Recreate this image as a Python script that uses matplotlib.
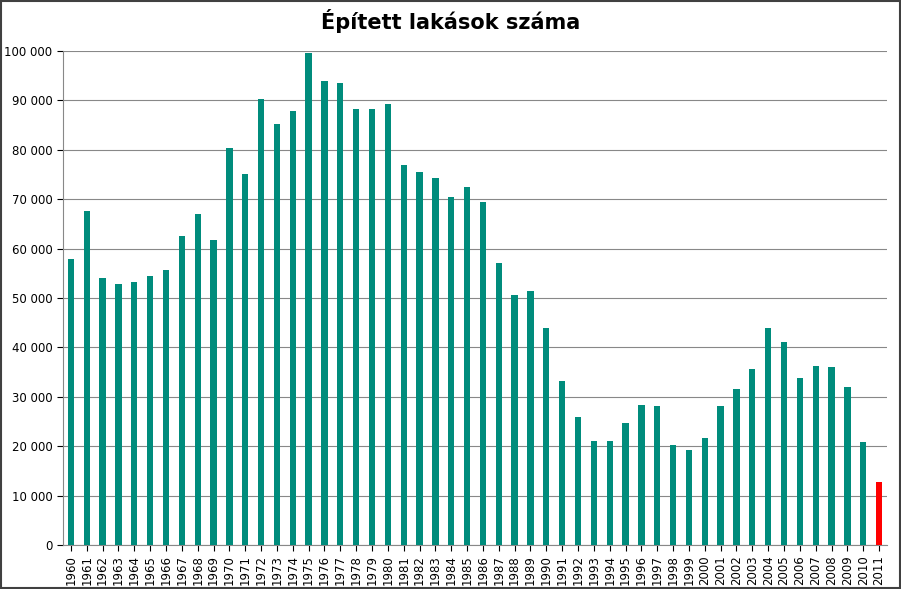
import matplotlib.pyplot as plt
from matplotlib.ticker import FuncFormatter
from matplotlib.patches import Rectangle

years = list(range(1960, 2012))
values = [57900, 67600, 54000, 52800, 53200, 54500, 55700, 62600, 67000, 61700,
          80400, 75100, 90300, 85200, 87900, 99600, 93900, 93500, 88300, 88300,
          89300, 76900, 75500, 74300, 70400, 72500, 69400, 57100, 50600, 51400,
          43900, 33200, 25900, 21000, 21000, 24700, 28300, 28100, 20200, 19300,
          21600, 28100, 31600, 35600, 43900, 41100, 33800, 36200, 36000, 32000,
          20800, 12700]

colors = ["#008C7C"] * (len(years) - 1) + ["#FF0000"]

fig = plt.figure(figsize=(9.01, 5.89), dpi=100)
ax = fig.add_axes([63 / 901, 44 / 589, 824 / 901, 494 / 589])
fig.patches.append(Rectangle((0.001, 0.001), 0.998, 0.998, transform=fig.transFigure,
                             fill=False, edgecolor="#404040", linewidth=1.5))

x = range(len(years))
ax.bar(x, values, width=0.4, color=colors, zorder=3)
ax.set_xlim(-0.5, len(years) - 0.5)
ax.set_ylim(0, 100000)
ax.set_yticks(range(0, 100001, 10000))
ax.yaxis.set_major_formatter(FuncFormatter(lambda v, p: f"{int(v):,}".replace(",", " ")))
ax.set_xticks(list(x))
ax.set_xticklabels([str(y) for y in years], rotation=90, fontsize=8.5)
ax.tick_params(axis="y", labelsize=8.5, length=4)
ax.tick_params(axis="x", length=4)
ax.grid(axis="y", color="#888888", linewidth=0.8, zorder=0)
for s in ["top", "right"]:
    ax.spines[s].set_visible(False)
ax.spines["left"].set_color("#888888")
ax.spines["bottom"].set_color("#888888")
fig.suptitle("Épített lakások száma", fontsize=15, fontweight="bold", y=0.985)

fig.savefig("out.png", dpi=100)
